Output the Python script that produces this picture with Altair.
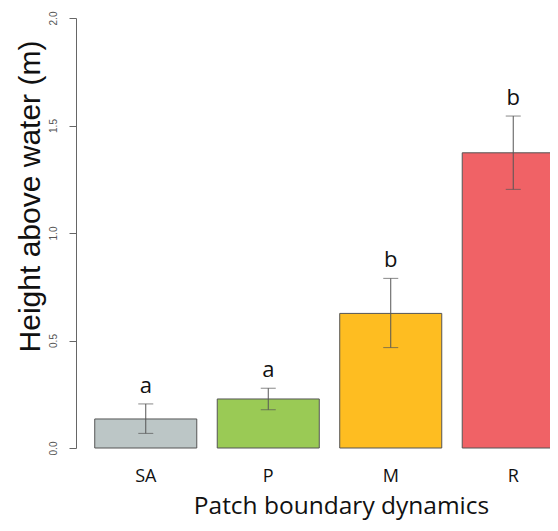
import altair as alt
import pandas as pd

categories = ["SA", "P", "M", "R"]
means = [0.135, 0.228, 0.626, 1.373]
err_low = [0.068, 0.178, 0.467, 1.203]
err_high = [0.205, 0.278, 0.789, 1.544]
letters = ["a", "a", "b", "b"]
colors = ["#BCC6C6", "#9ACA55", "#FEBD21", "#F06266"]

df = pd.DataFrame({"cat": categories, "mean": means, "lo": err_low,
                   "hi": err_high, "letter": letters})

xscale = alt.Scale(domain=categories, paddingInner=0.167, paddingOuter=0.153)
yscale = alt.Scale(domain=[0, 2], nice=False, zero=True)

x_enc = alt.X("cat:N", scale=xscale, sort=categories,
              title="Patch boundary dynamics",
              axis=alt.Axis(domain=False, ticks=False, labelAngle=0,
                            labelFont="Open Sans", labelFontSize=18,
                            labelColor="#111", labelBaseline="alphabetic",
                            labelPadding=33, titleFont="Open Sans",
                            titleFontSize=24.5, titleFontWeight="normal",
                            titleColor="#111", titleBaseline="alphabetic",
                            titleAnchor="start", titleAlign="center",
                            titleX=265, titleY=65))

base = alt.Chart(df)

bars = base.mark_bar(stroke="#555555", strokeWidth=1).encode(
    x=x_enc,
    y=alt.Y("mean:Q", scale=yscale, title="Height above water (m)",
            axis=alt.Axis(values=[0, 0.5, 1.0, 1.5, 2.0], format=".1f",
                          grid=False, domainColor="#666", tickColor="#666",
                          tickSize=7, labelAngle=270, labelAlign="center",
                          labelBaseline="bottom", labelPadding=11,
                          labelFontSize=10, labelColor="#555",
                          labelFont="Liberation Sans",
                          titleFont="Liberation Sans", titleFontSize=30,
                          titleFontWeight="normal", titleColor="#111",
                          titleAngle=270, titleAlign="center",
                          titleBaseline="middle", titleX=-46, titleY=178)),
    color=alt.Color("cat:N", scale=alt.Scale(domain=categories, range=colors),
                    legend=None),
)

rules = base.mark_rule(color="#555555", strokeWidth=1).encode(
    x=alt.X("cat:N", scale=xscale, sort=categories),
    y=alt.Y("lo:Q", scale=yscale),
    y2="hi:Q",
)

cap_lo = base.mark_tick(color="#555555", thickness=1, size=15,
                        orient="horizontal").encode(
    x=alt.X("cat:N", scale=xscale, sort=categories),
    y=alt.Y("lo:Q", scale=yscale),
)
cap_hi = base.mark_tick(color="#555555", thickness=1, size=15,
                        orient="horizontal").encode(
    x=alt.X("cat:N", scale=xscale, sort=categories),
    y=alt.Y("hi:Q", scale=yscale),
)

labels = base.mark_text(font="Open Sans", fontSize=22, color="#111",
                        baseline="alphabetic", dy=-11).encode(
    x=alt.X("cat:N", scale=xscale, sort=categories),
    y=alt.Y("hi:Q", scale=yscale),
    text="letter:N",
)

chart = alt.layer(bars, rules, cap_lo, cap_hi, labels).properties(
    width=507, height=430,
    autosize=alt.AutoSizeParams(type="none"),
    padding={"left": 68, "top": 10, "right": -33, "bottom": 74},
).configure(background="white").configure_view(stroke=None)

chart.save("out.html", embed_options={"renderer": "svg", "actions": False})
